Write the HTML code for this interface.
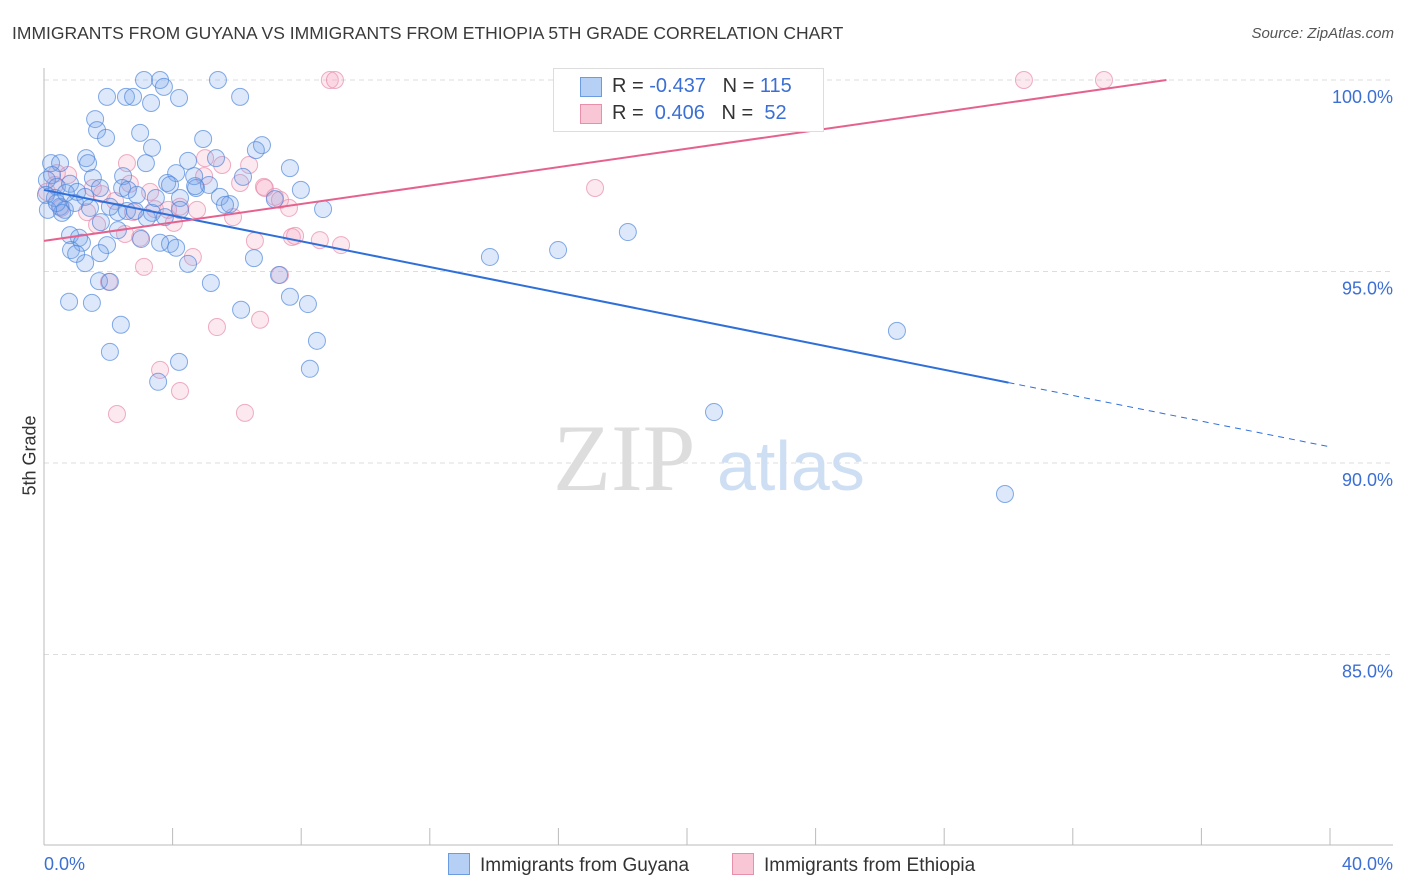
<!DOCTYPE html>
<html><head><meta charset="utf-8"><style>
body{margin:0;background:#fff;font-family:"Liberation Sans",sans-serif;}
#wrap{position:relative;width:1406px;height:892px;overflow:hidden;}
.t{position:absolute;white-space:nowrap;}
</style></head><body>
<div id="wrap">
<div class="t" style="left:12px;top:23px;font-size:17.5px;color:#3a3a3a;">IMMIGRANTS FROM GUYANA VS IMMIGRANTS FROM ETHIOPIA 5TH GRADE CORRELATION CHART</div>
<div class="t" style="right:12px;top:25px;font-size:15px;color:#555;font-style:italic">Source: ZipAtlas.com</div>
<div class="t" style="left:-10px;top:445px;font-size:18px;color:#333;transform:rotate(-90deg);transform-origin:center">5th Grade</div>
<svg id="svg" width="1406" height="892" style="position:absolute;left:0;top:0"></svg>
<div class="t" style="left:553px;top:68px;width:269px;height:62px;border:1px solid #ddd;background:#fff;font-size:20px;color:#333">
 <div style="position:absolute;left:26px;top:8px;width:20px;height:18px;background:#b5cff5;border:1px solid #6b9be0"></div>
 <div style="position:absolute;left:58px;top:6px">R = <span style="color:#3b6fd4">-0.437</span>&nbsp;&nbsp;&nbsp;N = <span style="color:#3b6fd4">115</span></div>
 <div style="position:absolute;left:26px;top:35px;width:20px;height:18px;background:#f9c6d6;border:1px solid #e890ab"></div>
 <div style="position:absolute;left:58px;top:33px">R = &nbsp;<span style="color:#3b6fd4">0.406</span>&nbsp;&nbsp;&nbsp;N = &nbsp;<span style="color:#3b6fd4">52</span></div>
</div>
<div class="t" style="left:448px;top:853px;font-size:19px;color:#333"><span style="display:inline-block;width:20px;height:20px;background:#b5cff5;border:1px solid #6b9be0;vertical-align:-4px;margin-right:10px"></span>Immigrants from Guyana</div>
<div class="t" style="left:732px;top:853px;font-size:19px;color:#333"><span style="display:inline-block;width:20px;height:20px;background:#f9c6d6;border:1px solid #e890ab;vertical-align:-4px;margin-right:10px"></span>Immigrants from Ethiopia</div>
</div>
<script>
const yTicks=[100,95,90,85];
const yTickLabels=["100.0%","95.0%","90.0%","85.0%"];
const xTickLabels=["0.0%","40.0%"];
const blueX=[3.11,3.61,5.41,3.73,1.96,2.55,2.77,4.20,6.10,3.33,1.59,1.65,1.93,2.99,4.95,6.78,6.59,3.36,1.31,0.22,0.50,1.37,3.17,4.48,5.35,7.65,2.46,1.52,4.11,4.67,6.19,0.25,0.09,0.40,0.81,1.03,1.74,2.43,2.89,3.83,4.73,5.13,5.47,7.99,4.23,5.78,7.18,8.68,0.34,0.50,0.65,0.96,1.43,2.30,2.58,3.36,3.20,3.76,4.23,0.56,0.12,1.77,2.30,0.81,1.09,1.18,1.96,0.84,1.00,1.74,3.02,3.61,3.92,4.11,4.48,1.28,1.71,2.05,0.78,1.49,5.19,6.53,7.31,7.65,8.21,6.13,2.39,8.49,2.05,4.20,3.55,8.27,13.87,15.99,18.16,26.53,20.84,29.89,3.92,4.70,5.63,0.06,0.40,1.28,0.68,2.83,3.48,2.05,2.61];
const blueY=[100,100,100,99.82,99.56,99.56,99.56,99.53,99.56,99.40,98.98,98.69,98.49,98.62,98.46,98.30,98.17,98.23,97.96,97.83,97.83,97.83,97.83,97.89,97.96,97.70,97.49,97.44,97.57,97.49,97.47,97.52,97.39,97.21,97.29,97.08,97.18,97.18,97.0,97.31,97.18,97.26,96.95,97.13,96.92,96.76,96.89,96.63,96.92,96.69,96.61,96.79,96.66,96.55,96.58,96.53,96.40,96.42,96.61,96.53,96.61,96.29,96.08,95.95,95.88,95.75,95.69,95.56,95.46,95.48,95.85,95.75,95.72,95.62,95.20,95.22,94.75,94.73,94.21,94.18,94.70,95.35,94.91,94.34,94.15,94.0,93.61,93.19,92.90,92.64,92.12,92.46,95.38,95.56,96.03,93.45,91.33,89.19,97.26,97.23,96.74,97.0,96.79,96.95,97.05,96.58,96.92,96.69,97.13];
const pinkX=[8.89,9.05,30.48,32.97,2.58,5.01,5.54,6.38,4.98,6.10,6.84,0.40,0.75,0.09,0.34,1.52,2.67,3.30,1.80,2.21,2.77,3.45,3.86,4.23,4.76,5.88,7.62,7.18,6.87,7.34,0.53,1.34,1.65,2.52,2.99,4.04,7.71,7.81,8.58,9.24,6.56,4.63,3.11,2.02,7.34,5.38,6.72,3.61,4.23,2.27,6.25,17.14];
const pinkY=[100,100,100,100,97.83,97.96,97.78,97.78,97.49,97.31,97.21,97.57,97.52,97.08,97.26,97.18,97.29,97.08,97.02,96.84,96.55,96.63,96.61,96.69,96.61,96.42,96.66,96.95,97.18,96.87,96.66,96.55,96.22,95.98,95.88,96.27,95.90,95.93,95.82,95.69,95.80,95.38,95.12,94.73,94.91,93.55,93.74,92.43,91.88,91.28,91.31,97.18];
const blueTrend=[97.13,-0.1677,30.0];
const pinkTrend=[95.8,0.1203];
const NS="http://www.w3.org/2000/svg";
const svg=document.getElementById('svg');
const xs=v=>44+v*32.15, ys=v=>80+(100-v)*38.3;
function mk(t,a,p){const e=document.createElementNS(NS,t);for(const k in a)e.setAttribute(k,a[k]);(p||svg).appendChild(e);return e;}
yTicks.forEach((v,i)=>{
 const g=mk('line',{x1:44,x2:1393,y1:ys(v),y2:ys(v),stroke:'#ddd','stroke-dasharray':'5,4'});
 
 
 const t=mk('text',{x:1393,y:ys(v)+23,'text-anchor':'end','font-size':18,fill:'#3b6fd4','font-family':'Liberation Sans'});
 t.textContent=yTickLabels[i];
 
 
});
let ax=mk('line',{x1:44,x2:44,y1:68,y2:845,stroke:'#bbb'});


ax=mk('line',{x1:44,x2:1393,y1:845,y2:845,stroke:'#bbb'});


for(let i=0;i<=10;i++){const tk=mk('line',{x1:xs(i*4),x2:xs(i*4),y1:828,y2:845,stroke:'#bbb'});
 
 }
[[0,'start',44],[40,'end',1393]].forEach((d,i)=>{const t=mk('text',{x:d[2],y:870,'text-anchor':d[1],'font-size':18,fill:'#3b6fd4','font-family':'Liberation Sans'});t.textContent=xTickLabels[i];
 
 });
let wm=mk('text',{x:553,y:490,'font-size':95,fill:'#ddd','font-family':'Liberation Serif'});wm.textContent='ZIP';


wm=mk('text',{x:717,y:490,'font-size':70,fill:'#cfdff3','font-family':'Liberation Sans'});wm.textContent='atlas';


function pts(X,Y,fill,stroke,name){X.forEach((x,i)=>{const c=mk('circle',{cx:xs(x),cy:ys(Y[i]),r:8.5,fill:fill,stroke:stroke,'stroke-width':1});
 
 });}
pts(pinkX,pinkY,'rgba(244,165,192,0.25)','rgba(232,140,170,0.7)','point-ethiopia');
pts(blueX,blueY,'rgba(120,165,235,0.25)','rgba(80,135,220,0.7)','point-guyana');
const bt=x=>blueTrend[0]+blueTrend[1]*x;
let l=mk('line',{x1:xs(0),y1:ys(bt(0)),x2:xs(blueTrend[2]),y2:ys(bt(blueTrend[2])),stroke:'#2f6fd8','stroke-width':2});


l=mk('line',{x1:xs(blueTrend[2]),y1:ys(bt(blueTrend[2])),x2:xs(40),y2:ys(bt(40)),stroke:'#2f6fd8','stroke-width':1,'stroke-dasharray':'6,5'});


const pEnd=Math.min(40,(100-pinkTrend[0])/pinkTrend[1]);
l=mk('line',{x1:xs(0),y1:ys(pinkTrend[0]),x2:xs(pEnd),y2:ys(pinkTrend[0]+pinkTrend[1]*pEnd),stroke:'#e5628d','stroke-width':2});


</script>
</body></html>
